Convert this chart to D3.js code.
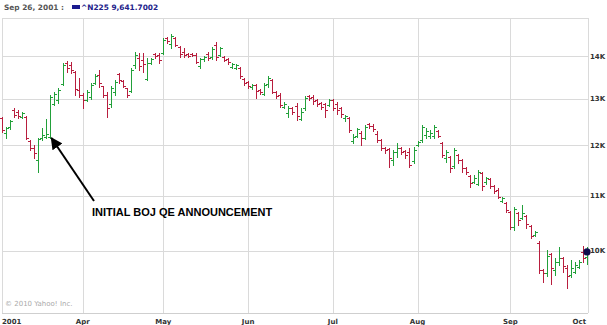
<!DOCTYPE html>
<html>
<head>
<meta charset="utf-8">
<script src="https://cdn.jsdelivr.net/npm/d3@7"></script>
<style>
  body { margin: 0; background: #fff; }
  svg { display: block; }
  .lbl { font-family: "DejaVu Sans", Verdana, sans-serif; font-weight: bold; font-size: 7px; fill: #333; }
</style>
</head>
<body>
<svg id="chart" width="607" height="325"></svg>
<script>
// ^N225 daily bars, 2 Mar 2001 .. 1 Oct 2001 (one entry per trading day)
const opens = [12580,12258,12386,12755,12711,12602,12602,12090,11945,11700,12153,12174,12174,12887,12977,13340,13833,13785,13619,13203,
  13089,12977,13044,13364,13549,13294,13089,12887,13157,13572,13410,13249,13180,13785,13952,13904,13456,13833,14049,14025,
  14074,14442,14294,14442,14220,14098,14049,14049,14025,13761,13928,14049,13977,14269,14025,13977,13928,13737,13714,13714,
  13456,13387,13272,13317,13203,13112,13340,13433,13157,13089,12821,12689,12799,12843,12559,12799,13067,13044,12977,12910,
  12887,12865,12977,12887,12799,12580,12580,12090,12195,12258,12153,12451,12408,12237,12111,11945,11925,11700,11863,11945,
  11884,11863,11680,12007,12111,12216,12195,12195,12301,12049,11741,11761,11580,11802,11700,11540,11381,11264,11225,11441,
  11264,11323,11187,11110,10901,10864,10696,10423,10678,10586,10623,10441,10280,10139,9677,9627,9948,9677,9812,9880,
  9711,9594,9644,9727,9983,9897];
const highs = [12602,12386,12537,12799,12755,12711,12623,12111,12007,12153,12365,12559,13089,13157,13249,13833,13880,13856,13643,13479,
  13135,13203,13364,13572,13666,13294,13157,13294,13433,13596,13433,13249,13714,14098,14074,14074,13952,13952,14074,14074,
  14442,14467,14542,14467,14244,14195,14074,14074,14074,13952,14001,14098,14220,14343,14220,14001,13952,13833,13809,13737,
  13479,13410,13340,13340,13226,13364,13526,13456,13180,13135,12932,12843,12821,12910,12799,13067,13089,13089,12999,12932,
  12910,12999,12999,12932,12821,12645,12602,12237,12365,12301,12429,12472,12451,12301,12132,11966,11945,11904,12049,11966,
  11904,11945,11966,12090,12429,12365,12322,12429,12322,12070,11904,11782,11945,11822,11720,11560,11401,11401,11500,11460,
  11362,11342,11206,11148,10976,10882,10715,10789,10696,10826,10641,10459,10351,10174,9694,10017,9965,9880,10069,9897,
  9761,9846,9812,9846,10087,10069];
const lows = [12280,12153,12343,12602,12580,12580,12132,11904,11741,11460,12111,12153,12153,12865,12910,13317,13619,13596,13089,13044,
  12799,12955,12999,13340,13272,13044,12602,12821,13089,13364,13272,13044,13157,13714,13666,13619,13433,13809,13952,13833,
  14049,14318,14195,14244,13977,13977,13977,14001,13833,13714,13880,13904,13928,13904,14001,13880,13809,13714,13690,13479,
  13317,13249,13226,13022,13112,13089,13272,13135,13022,12821,12799,12602,12667,12537,12537,12755,12977,12887,12843,12777,
  12602,12843,12755,12667,12602,12515,12280,12049,12174,12007,12132,12365,12301,12070,11904,11843,11560,11600,11761,11822,
  11741,11560,11640,11986,12070,12153,12153,12153,12174,11761,11660,11460,11540,11640,11460,11421,11168,11245,11206,11110,
  11225,11148,11052,10958,10882,10696,10387,10369,10459,10568,10405,10227,10262,9627,9479,9578,9447,9594,9761,9644,
  9382,9561,9627,9711,9812,9778];
const closes = [12322,12365,12515,12645,12623,12689,12153,11945,11843,12132,12216,12237,13044,13112,13203,13785,13714,13666,13226,13089,
  12977,13157,13317,13526,13364,13089,12799,13249,13387,13433,13294,13089,13666,14025,13761,13809,13833,13928,14001,13904,
  14392,14367,14492,14269,14049,14025,14001,14025,13856,13928,13977,13952,14171,13977,14195,13904,13856,13809,13785,13526,
  13364,13294,13317,13180,13157,13317,13479,13157,13067,12865,12887,12799,12711,12623,12711,13022,13022,12955,12887,12821,
  12755,12977,12799,12755,12667,12623,12322,12174,12343,12153,12386,12408,12343,12111,11945,11904,11741,11863,11945,11863,
  11802,11600,11904,12070,12386,12301,12258,12386,12195,11802,11863,11540,11904,11700,11540,11460,11245,11342,11460,11187,
  11342,11187,11091,10976,10958,10733,10423,10752,10550,10678,10477,10262,10333,9677,9627,9914,9711,9812,9880,9744,
  9578,9711,9761,9812,9880,9983];

// first trading day of each month (bar index) and its label
const monthLabels = ["2001", "Apr", "May", "Jun", "Jul", "Aug", "Sep", "Oct"];
const monthStarts = [0, 20, 40, 61, 82, 103, 126, 146];
const priceTicks = [10000, 11000, 12000, 13000, 14000];

const svg = d3.select("#chart");
const plot = { left: 2, right: 588, top: 18, bottom: 313 };
const green = "#22a03a";
const red = "#b81e3e";
const gridColor = "#dadada";
const crisp = (v) => Math.round(v) + 0.5;

const x = d3.scaleLinear().domain([0, closes.length - 1]).range([2, 587]);
const y = d3.scaleLog().domain([8985, 14949]).range([plot.bottom, plot.top]);

// header
const header = svg.append("g").attr("class", "header");
header.append("text")
  .attr("x", 4).attr("y", 10)
  .style("font-family", "DejaVu Sans, Verdana, sans-serif")
  .style("font-weight", "bold").style("font-size", "7.4px")
  .style("fill", "#555")
  .text("Sep 26, 2001 :");
header.append("rect")
  .attr("x", 72).attr("y", 5).attr("width", 8).attr("height", 4)
  .style("fill", "#1b1b8f");
header.append("text")
  .attr("x", 81).attr("y", 10)
  .style("font-family", "DejaVu Sans, Verdana, sans-serif")
  .style("font-weight", "bold").style("font-size", "7.4px")
  .style("fill", "#22228a")
  .text("^N225  9,641.7002");

// grid
const grid = svg.append("g").attr("class", "grid")
  .style("stroke", gridColor).style("stroke-width", 1).style("shape-rendering", "crispEdges");
grid.selectAll(".hgrid")
  .data(priceTicks)
  .join("line")
  .attr("class", "hgrid")
  .attr("x1", plot.left).attr("x2", plot.right)
  .attr("y1", (d) => crisp(y(d))).attr("y2", (d) => crisp(y(d)));
grid.selectAll(".vgrid")
  .data(monthStarts.slice(1, -1))
  .join("line")
  .attr("class", "vgrid")
  .attr("x1", (d) => crisp(x(d))).attr("x2", (d) => crisp(x(d)))
  .attr("y1", plot.top).attr("y2", plot.bottom);
// frame
grid.append("line").attr("x1", plot.left + 0.5).attr("x2", plot.left + 0.5).attr("y1", plot.top).attr("y2", plot.bottom);
grid.append("line").attr("x1", plot.right + 0.5).attr("x2", plot.right + 0.5).attr("y1", plot.top).attr("y2", plot.bottom);
grid.append("line").attr("x1", plot.left).attr("x2", plot.right).attr("y1", plot.top + 0.5).attr("y2", plot.top + 0.5);
grid.append("line").attr("x1", plot.left).attr("x2", plot.right).attr("y1", plot.bottom + 0.5).attr("y2", plot.bottom + 0.5)
  .style("stroke", "#cfcfcf");

// copyright
svg.append("text")
  .attr("x", 5).attr("y", 306)
  .style("font-family", "DejaVu Sans, Verdana, sans-serif")
  .style("font-size", "7px").style("fill", "#aaa")
  .text("\u00a9 2010 Yahoo! Inc.");

// ohlc bars
const bars = d3.range(closes.length).map((i) => ({
  i, o: opens[i], h: highs[i], l: lows[i], c: closes[i],
}));
const bar = svg.append("g").attr("class", "bars")
  .style("shape-rendering", "crispEdges")
  .selectAll("g")
  .data(bars)
  .join("g")
  .style("stroke", (d) => (d.c >= d.o ? green : red))
  .style("stroke-width", 1);
bar.append("line")
  .attr("x1", (d) => crisp(x(d.i))).attr("x2", (d) => crisp(x(d.i)))
  .attr("y1", (d) => Math.round(y(d.h))).attr("y2", (d) => Math.round(y(d.l)) + 1);
bar.append("line")
  .attr("x1", (d) => Math.round(x(d.i)) - 2).attr("x2", (d) => Math.round(x(d.i)))
  .attr("y1", (d) => crisp(y(d.o))).attr("y2", (d) => crisp(y(d.o)));
bar.append("line")
  .attr("x1", (d) => Math.round(x(d.i)) + 1).attr("x2", (d) => Math.round(x(d.i)) + 3)
  .attr("y1", (d) => crisp(y(d.c))).attr("y2", (d) => crisp(y(d.c)));

// last value marker
const last = bars[bars.length - 1];
svg.append("circle")
  .attr("cx", x(last.i)).attr("cy", y(last.c)).attr("r", 3.6)
  .style("fill", "#0d0d4d");

// right axis labels
svg.append("g").selectAll("text")
  .data(priceTicks)
  .join("text")
  .attr("class", "lbl")
  .attr("x", plot.right + 2)
  .attr("y", (d) => y(d) + 2.5)
  .text((d) => d / 1000 + "K");

// month labels
svg.append("g").selectAll("text")
  .data(monthLabels)
  .join("text")
  .attr("class", "lbl")
  .attr("y", 324)
  .attr("x", (d, i) => (i === 0 ? plot.left : Math.min(x(monthStarts[i]), plot.right - 2)))
  .attr("text-anchor", (d, i) => (i === 0 ? "start" : i === monthLabels.length - 1 ? "end" : "middle"))
  .text((d) => d);

// annotation arrow
const defs = svg.append("defs");
defs.append("marker")
  .attr("id", "head")
  .attr("viewBox", "0 0 10 10")
  .attr("refX", 9).attr("refY", 5)
  .attr("markerWidth", 6).attr("markerHeight", 6)
  .attr("orient", "auto")
  .append("path")
  .attr("d", "M0,0 L10,5 L0,10 z")
  .style("fill", "#000");
const qeBar = 12;
svg.append("line")
  .attr("x1", 94).attr("y1", 201)
  .attr("x2", x(qeBar) + 1).attr("y2", y(opens[qeBar]) + 1)
  .attr("marker-end", "url(#head)")
  .style("stroke", "#000").style("stroke-width", 2);
svg.append("text")
  .attr("x", 92).attr("y", 216)
  .style("font-family", "Liberation Sans, Arial, sans-serif")
  .style("font-weight", "bold").style("font-size", "11px")
  .style("fill", "#000")
  .text("INITIAL BOJ QE ANNOUNCEMENT");
</script>
</body>
</html>
